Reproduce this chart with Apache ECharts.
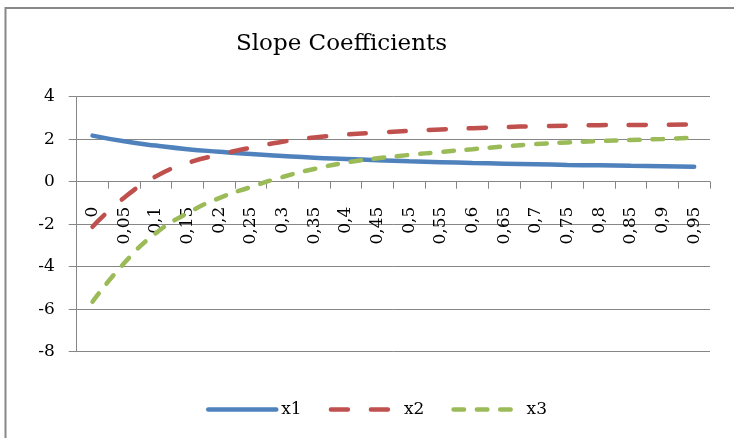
<!DOCTYPE html>
<html><head><meta charset="utf-8">
<script src="https://cdn.jsdelivr.net/npm/echarts@6/dist/echarts.min.js"></script>
<style>html,body{margin:0;padding:0;background:#fff}#c{width:734px;height:438px}</style>
</head><body><div id="c"></div>
<script>
const categories = ['0','0,05','0,1','0,15','0,2','0,25','0,3','0,35','0,4','0,45','0,5','0,55','0,6','0,65','0,7','0,75','0,8','0,85','0,9','0,95'];
const x1 = [2.17,1.9,1.7,1.53,1.41,1.3,1.21,1.13,1.07,1.01,0.96,0.92,0.88,0.85,0.82,0.79,0.77,0.75,0.73,0.7];
const x2 = [-2.12,-0.75,0.25,0.88,1.27,1.6,1.88,2.08,2.22,2.31,2.39,2.46,2.52,2.57,2.61,2.64,2.66,2.67,2.68,2.7];
const x3 = [-5.65,-3.83,-2.42,-1.48,-0.77,-0.25,0.22,0.6,0.9,1.1,1.26,1.4,1.53,1.66,1.77,1.85,1.91,1.96,2.01,2.07];
const yTicks = {min:-8, max:4, interval:2};
const FONT = 'DejaVu Serif';
const chart = echarts.init(document.getElementById('c'));
function ser(name, data, color, type){
  return {name, type:'line', data, smooth:true, symbol:'none', showSymbol:false,
    lineStyle:{color, width:4.5, type, cap:'round'}, itemStyle:{color}};
}
chart.setOption({
  animation:false,
  backgroundColor:'#fff',
  graphic:[{type:'rect', shape:{x:5.5,y:8,width:900,height:600}, style:{fill:'none', stroke:'#888', lineWidth:2}, silent:true}],
  title:{text:'Slope Coefficients', left:231, top:28, textStyle:{fontFamily:FONT, fontSize:23, fontWeight:'normal', color:'#000'}},
  grid:{left:76.7, right:24, top:96.7, bottom:86.3},
  legend:{left:201, top:396, itemWidth:68, itemHeight:12, itemGap:27,
    itemStyle:{opacity:0}, lineStyle:{width:4.5, cap:'round'},
    textStyle:{fontFamily:FONT, fontSize:17, color:'#000'}, data:['x1','x2','x3']},
  xAxis:{type:'category', data:categories, boundaryGap:true, offset:-170,
    axisLine:{onZero:false, lineStyle:{color:'#868686', width:1}},
    axisTick:{show:true, length:7, lineStyle:{color:'#868686'}},
    axisLabel:{rotate:90, margin:25, interval:0, fontFamily:FONT, fontSize:17, color:'#000'}},
  yAxis:{type:'value', min:yTicks.min, max:yTicks.max, interval:yTicks.interval,
    axisLine:{show:true, lineStyle:{color:'#868686', width:1}},
    axisTick:{show:true, length:8, lineStyle:{color:'#868686'}},
    splitLine:{lineStyle:{color:'#868686', width:1}},
    axisLabel:{margin:22, fontFamily:FONT, fontSize:17, color:'#000'}},
  series:[
    ser('x1', x1, '#4F81BD', 'solid'),
    ser('x2', x2, '#C0504D', [17,23]),
    ser('x3', x3, '#9BBB59', [10.5,12.8])
  ]
});
</script></body></html>
